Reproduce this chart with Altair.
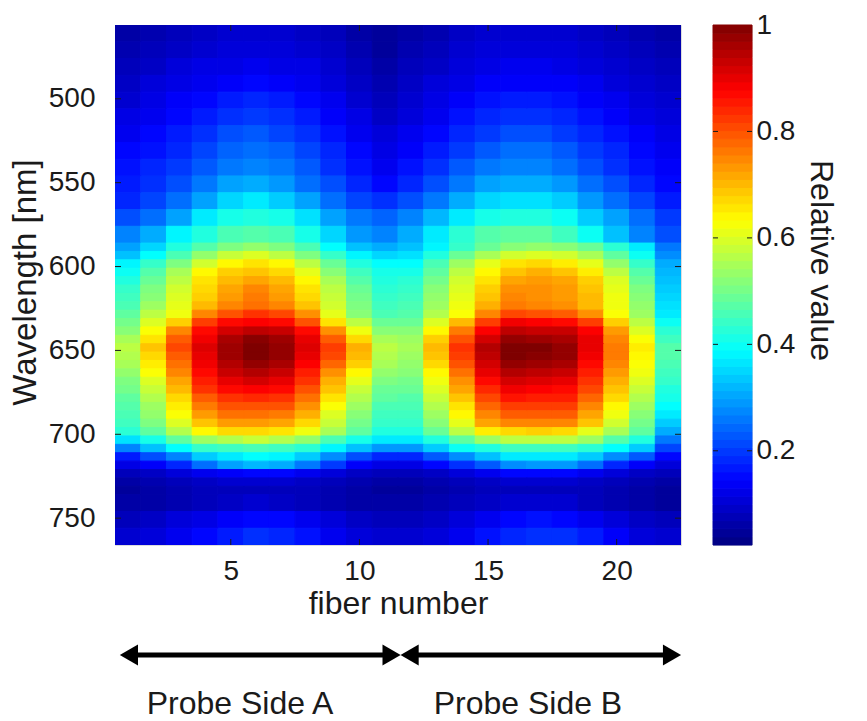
import altair as alt
import pandas as pd

# Row edges in nm and cell values (percent of relative value), per fiber 1..22
edges = [456,466,476,486,496,506,516,526,536,546,556,566,576,586,591,596,601,606,611,616,621,626,631,636,641,646,651,656,661,666,671,676,681,686,691,696,701,706,711,716,721,726,731,736,746,756,766]
grid = [
[6,7,8,9,10,10,10,9,8,6,5,6,7,9,10,10,10,10,9,8,7,6],
[7,8,9,10,11,11,11,10,9,7,5,7,8,10,11,11,11,11,10,9,8,7],
[8,9,11,12,12,13,12,12,10,8,6,8,9,11,12,13,13,12,11,10,9,8],
[9,11,12,13,14,15,14,13,11,9,7,9,11,12,14,14,14,14,13,11,10,9],
[10,12,14,15,17,18,17,15,13,10,8,10,12,14,16,17,17,16,14,13,11,10],
[12,13,15,17,19,20,19,17,14,12,9,11,13,16,18,19,19,18,16,14,12,11],
[13,15,17,19,22,23,21,19,16,13,11,13,15,18,20,22,22,20,18,16,14,12],
[15,16,18,21,24,25,24,21,18,15,12,14,17,20,23,25,25,23,20,18,15,13],
[16,18,20,23,26,27,26,23,19,16,13,16,19,23,26,27,27,25,22,19,16,14],
[17,19,22,26,30,31,29,25,22,18,15,18,22,26,30,31,31,29,25,22,18,15],
[18,21,25,30,35,37,34,30,25,21,19,22,26,31,35,36,36,34,29,25,21,17],
[22,25,30,37,41,42,41,36,30,26,24,27,32,37,41,42,42,40,34,30,25,20],
[27,31,38,42,46,47,46,41,35,29,27,31,37,43,47,48,48,45,40,33,27,22],
[30,35,42,47,51,53,51,46,39,33,31,33,38,44,49,52,53,52,49,43,37,26],
[33,39,46,53,58,60,57,51,44,38,35,36,42,49,55,59,60,59,55,48,40,28],
[38,44,51,59,64,66,64,57,49,42,39,39,46,54,61,66,67,65,61,53,44,31],
[40,47,55,64,68,69,67,61,52,45,41,41,48,57,64,69,71,69,65,57,47,32],
[42,49,57,66,70,72,70,64,55,47,42,43,50,59,66,72,73,72,68,60,49,33],
[44,51,59,67,72,75,72,66,57,49,43,44,52,60,68,74,74,73,69,61,51,34],
[45,52,60,68,73,76,73,67,58,50,44,45,53,61,69,75,74,73,70,62,52,35],
[46,54,61,70,75,77,75,69,59,51,45,46,54,62,71,76,75,74,70,62,53,36],
[48,57,62,75,80,83,81,74,61,52,46,47,56,63,75,81,80,79,74,63,54,37],
[50,60,68,82,87,88,87,80,66,57,49,49,60,70,82,89,88,87,82,68,57,40],
[52,63,75,87,92,94,93,87,74,62,52,52,64,76,88,94,93,93,88,73,60,43],
[55,66,79,89,96,99,97,90,79,67,55,54,68,80,92,98,97,96,90,75,63,45],
[57,69,81,91,97,100,98,91,82,71,57,55,70,83,95,100,100,98,90,76,65,47],
[56,67,79,90,97,100,98,90,81,70,56,54,69,82,94,100,99,98,89,76,64,47],
[55,65,77,89,95,98,96,88,78,68,55,53,67,80,92,98,97,96,87,75,63,46],
[53,63,75,87,93,95,93,85,74,64,53,52,64,77,90,95,94,93,85,73,62,45],
[51,60,72,85,90,92,90,83,71,61,51,50,62,74,87,92,91,90,83,71,60,44],
[50,58,70,83,87,88,87,80,69,58,49,49,60,72,84,89,88,87,81,69,58,42],
[48,56,67,79,83,84,83,77,66,56,48,47,58,69,81,86,85,85,78,67,56,41],
[47,54,65,76,80,80,80,74,63,54,46,46,56,66,78,82,82,82,75,64,54,39],
[46,53,63,73,77,77,76,71,60,52,45,45,54,64,75,79,79,79,72,62,52,37],
[45,51,60,69,73,73,72,67,58,50,44,44,52,61,72,75,75,75,69,59,50,34],
[43,48,56,64,67,67,66,62,55,48,42,42,49,57,65,67,68,67,61,55,48,31],
[36,41,48,54,56,58,56,53,46,41,37,37,42,48,54,57,57,57,54,47,42,26],
[27,33,39,44,45,46,45,43,38,33,29,29,34,40,42,45,45,45,43,39,34,21],
[17,22,27,34,37,39,38,34,28,22,18,18,23,28,33,37,37,37,34,28,23,15],
[12,14,18,25,30,32,31,26,20,14,12,12,15,19,23,28,29,29,25,18,14,11],
[8,9,11,13,14,15,15,13,11,9,8,8,9,11,13,15,15,15,13,11,9,8],
[6,7,8,9,10,10,10,9,8,7,6,6,7,8,9,10,10,10,9,8,7,6],
[5,6,7,8,8,8,8,8,7,6,5,5,6,7,8,8,8,8,8,7,6,5],
[6,6,7,8,9,10,9,8,7,6,6,6,7,8,9,10,10,10,8,7,6,5],
[8,9,11,12,14,15,15,13,11,9,8,8,9,11,13,15,16,15,13,11,9,8],
[10,11,13,15,17,19,18,16,13,11,10,10,11,13,16,18,19,19,17,14,11,10],
]
x_ticks = [5, 10, 15, 20]
y_ticks = [500, 550, 600, 650, 700, 750]
cb_ticks = [0.2, 0.4, 0.6, 0.8, 1.0]
jet_stops = ["#00007f", "#0000ff", "#00ffff", "#ffff00", "#ff0000", "#7f0000"]
jet_pos = [0.023, 0.145, 0.389, 0.634, 0.878, 1.0]
arrows = [("A", 1.04, 11.25), ("B", 11.95, 22.15)]
labels = ["Probe Side A", "Probe Side B"]
label_x = [5.36, 16.55]

FONT = "Liberation Sans"
ink = "#1a1a1a"

rows = []
for i, r in enumerate(grid):
    for j, v in enumerate(r):
        rows.append({"x0": j + 0.5, "x1": j + 1.5, "y0": edges[i], "y1": edges[i + 1], "v": v / 100})
df = pd.DataFrame(rows)

color = alt.Scale(domain=jet_pos, range=jet_stops, interpolate="rgb", clamp=True)
xs = alt.Scale(domain=[0.5, 22.5], nice=False, zero=False)
ys = alt.Scale(domain=[456, 766], nice=False, zero=False, reverse=True)

xaxis = alt.Axis(values=x_ticks, title="fiber number", grid=False, tickSize=0, domain=False,
                 labelFontSize=28, titleFontSize=32, labelPadding=12, titlePadding=3, titleFontWeight="normal",
                 labelFont=FONT, titleFont=FONT, labelColor=ink, titleColor=ink)
yaxis = alt.Axis(values=y_ticks, title="Wavelength [nm]", grid=False, tickSize=0, domain=False,
                 labelFontSize=28, titleFontSize=33, labelPadding=20, titleFontWeight="normal",
                 titleX=-73, titleY=257, labelFont=FONT, titleFont=FONT, labelColor=ink, titleColor=ink)

heat = alt.Chart(df).mark_rect(strokeWidth=1, clip=True).encode(
    x=alt.X("x0:Q", scale=xs, axis=xaxis),
    x2="x1:Q",
    y=alt.Y("y0:Q", scale=ys, axis=yaxis),
    y2="y1:Q",
    color=alt.Color("v:Q", scale=color, legend=None),
    stroke=alt.Stroke("v:Q", scale=color, legend=None),
)

xt = pd.DataFrame({"x": x_ticks})
yt = pd.DataFrame({"y": y_ticks})
H, W = 520, 566
tick_layers = [
    alt.Chart(xt).mark_rule(color=ink, strokeWidth=1).encode(x=alt.X("x:Q", scale=xs), y=alt.value(0), y2=alt.value(6)),
    alt.Chart(xt).mark_rule(color=ink, strokeWidth=1).encode(x=alt.X("x:Q", scale=xs), y=alt.value(H - 6), y2=alt.value(H)),
    alt.Chart(yt).mark_rule(color=ink, strokeWidth=1).encode(y=alt.Y("y:Q", scale=ys), x=alt.value(0), x2=alt.value(6)),
    alt.Chart(yt).mark_rule(color=ink, strokeWidth=1).encode(y=alt.Y("y:Q", scale=ys), x=alt.value(W - 6), x2=alt.value(W)),
]

a = pd.DataFrame([{"s": s, "x0": p, "x1": q} for s, p, q in arrows])
ARROW_Y = 630
shaft = alt.Chart(a).mark_rule(color="black", strokeWidth=5).encode(
    x=alt.X("x0:Q", scale=xs), x2="x1:Q", y=alt.value(ARROW_Y))
head_l = alt.Chart(a).mark_point(shape="triangle-left", filled=True, color="black", size=440, opacity=1).encode(
    x=alt.X("x0:Q", scale=xs), y=alt.value(ARROW_Y))
head_r = alt.Chart(a).mark_point(shape="triangle-right", filled=True, color="black", size=440, opacity=1).encode(
    x=alt.X("x1:Q", scale=xs), y=alt.value(ARROW_Y))
txt = alt.Chart(pd.DataFrame({"x": label_x, "t": labels})).mark_text(
    font=FONT, fontSize=32, color=ink, baseline="middle", align="center").encode(
    x=alt.X("x:Q", scale=xs), y=alt.value(ARROW_Y + 49), text="t:N")

main = alt.layer(heat, *tick_layers, shaft, head_l, head_r, txt).properties(width=W, height=H)

levels = 64
lo, hi = jet_pos[0], jet_pos[-1]
cb = pd.DataFrame([{"v0": lo + (hi - lo) * k / levels, "v1": lo + (hi - lo) * (k + 1) / levels,
                    "v": lo + (hi - lo) * (k + 0.5) / levels} for k in range(levels)])
cs = alt.Scale(domain=[lo, hi], nice=False, zero=False)
cb_axis = alt.Axis(values=cb_ticks, orient="right", title="Relative value", grid=False, tickSize=0, domain=False,
                   labelFontSize=28, titleFontSize=32, labelPadding=4, titleFontWeight="normal", titleAngle=90,
                   titleX=51, titleY=235, labelFont=FONT, titleFont=FONT, labelColor=ink, titleColor=ink, format="~g")
bar = alt.Chart(cb).mark_rect(strokeWidth=1).encode(
    x=alt.value(0), x2=alt.value(39),
    y=alt.Y("v0:Q", scale=cs, axis=cb_axis), y2="v1:Q",
    color=alt.Color("v:Q", scale=color, legend=None),
    stroke=alt.Stroke("v:Q", scale=color, legend=None),
)
ct = pd.DataFrame({"y": cb_ticks[:-1]})
cb_tl = alt.Chart(ct).mark_rule(color=ink).encode(y=alt.Y("y:Q", scale=cs), x=alt.value(0), x2=alt.value(5))
cb_tr = alt.Chart(ct).mark_rule(color=ink).encode(y=alt.Y("y:Q", scale=cs), x=alt.value(34), x2=alt.value(39))
side = alt.layer(bar, cb_tl, cb_tr).properties(width=39, height=H)

chart = alt.hconcat(main, side, spacing=30).resolve_scale(color="independent", stroke="independent", y="independent").properties(
    padding={"left": 0, "top": 2, "right": 0, "bottom": 0}
).configure_view(stroke="#333333", strokeWidth=1.2).configure(background="white")

chart.save("out.html", embed_options={"renderer": "svg", "actions": False})
